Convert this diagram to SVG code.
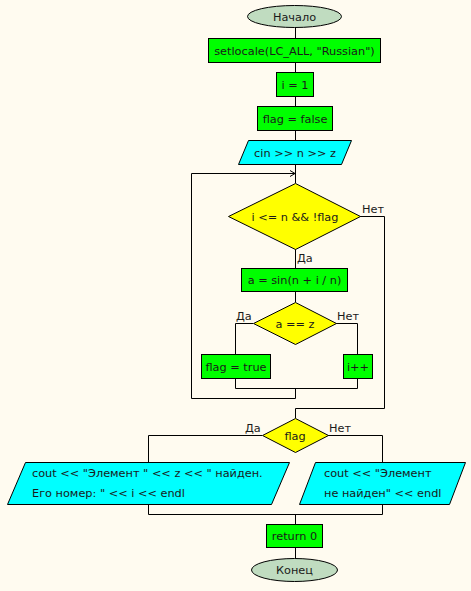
<svg xmlns="http://www.w3.org/2000/svg" width="471" height="591" viewBox="0 0 471 591">
<style>
.ln{fill:none;stroke:#000;stroke-width:1}
.term{fill:#C0DCC0;stroke:#000;stroke-width:1}
.proc{fill:#00FF00;stroke:#000;stroke-width:1}
.io{fill:#00FFFF;stroke:#000;stroke-width:1}
.dec{fill:#FFFF00;stroke:#000;stroke-width:1}
text{font-family:"DejaVu Sans",Verdana,sans-serif;font-size:11.3px;fill:#1a1a1a}
.c{text-anchor:middle}
</style>
<defs>
<marker id="arr" markerWidth="8" markerHeight="8" refX="6" refY="4" orient="auto" markerUnits="userSpaceOnUse">
<path d="M1,1 L6,4 L1,7" fill="none" stroke="#000" stroke-width="1"/>
</marker>
</defs>
<rect x="0" y="0" width="471" height="591" fill="#FFFBF0"/>
<g id="connectors">
<path class="ln" d="M295.5,27 V38 M295.5,62 V72 M295.5,96 V106 M295.5,130 V140 M295.5,164 V183"/>
<path class="ln" d="M295.5,249 V268 M295.5,291 V302"/>
<path class="ln" d="M253,323.5 H235.5 V354 M336,323.5 H357.5 V354"/>
<path class="ln" d="M235.5,378 V388.5 H357.5 V378 M295.5,388.5 V398.5 H191.5 V173.5 H295"  marker-end="url(#arr)"/>
<path class="ln" d="M360,216.5 H384.5 V408.5 H295.5 V418"/>
<path class="ln" d="M262,435.5 H148.5 V462 M328,435.5 H382.5 V462"/>
<path class="ln" d="M148.5,504 V514.5 H382.5 V504 M295.5,514.5 V524 M295.5,547 V558"/>
<text x="362" y="213">Нет</text>
<text x="297" y="262">Да</text>
<text x="236" y="320">Да</text>
<text x="337" y="320">Нет</text>
<text x="245" y="432">Да</text>
<text x="329" y="432">Нет</text>
</g>
<g id="start"><ellipse class="term" cx="294.5" cy="16.5" rx="47" ry="11"/><text class="c" x="294.5" y="20.5">Начало</text></g>
<g id="setlocale"><rect class="proc" x="208.5" y="38.5" width="172" height="24"/><text class="c" x="294.5" y="54.5">setlocale(LC_ALL, "Russian")</text></g>
<g id="i1"><rect class="proc" x="276.5" y="72.5" width="37" height="24"/><text class="c" x="295" y="88.5">i = 1</text></g>
<g id="flagfalse"><rect class="proc" x="257.5" y="106.5" width="75" height="24"/><text class="c" x="295" y="122.5">flag = false</text></g>
<g id="cin"><polygon class="io" points="248.5,140.5 351.5,140.5 341.5,164.5 238.5,164.5"/><text class="c" x="295" y="156.5">cin &gt;&gt; n &gt;&gt; z</text></g>
<g id="loopcond"><polygon class="dec" points="295.5,183.5 360.5,216.5 295.5,249.5 228.5,216.5"/><text class="c" x="295" y="220.5">i &lt;= n &amp;&amp; !flag</text></g>
<g id="asin"><rect class="proc" x="241.5" y="268.5" width="106" height="23"/><text class="c" x="294.5" y="284">a = sin(n + i / n)</text></g>
<g id="aeqz"><polygon class="dec" points="295.5,302.5 336.5,323.5 295.5,344.5 253.5,323.5"/><text class="c" x="295" y="327.5">a == z</text></g>
<g id="flagtrue"><rect class="proc" x="201.5" y="354.5" width="69" height="24"/><text class="c" x="236" y="370.5">flag = true</text></g>
<g id="iinc"><rect class="proc" x="343.5" y="354.5" width="29" height="24"/><text class="c" x="358" y="370.5">i++</text></g>
<g id="flagdec"><polygon class="dec" points="295.5,418.5 328.5,435.5 295.5,452.5 262.5,435.5"/><text class="c" x="295" y="439.5">flag</text></g>
<g id="found"><polygon class="io" points="25.5,462.5 289.5,462.5 271.5,504.5 7.5,504.5"/><text x="32" y="477">cout &lt;&lt; "Элемент " &lt;&lt; z &lt;&lt; " найден.</text><text x="32" y="497">Его номер: " &lt;&lt; i &lt;&lt; endl</text></g>
<g id="notfound"><polygon class="io" points="315.5,462.5 465.5,462.5 449.5,504.5 299.5,504.5"/><text x="324" y="477">cout &lt;&lt; "Элемент</text><text x="324" y="497">не найден" &lt;&lt; endl</text></g>
<g id="ret"><rect class="proc" x="266.5" y="524.5" width="56" height="23"/><text class="c" x="294.5" y="540">return 0</text></g>
<g id="end"><ellipse class="term" cx="294.5" cy="570" rx="43" ry="11.5"/><text class="c" x="294.5" y="574">Конец</text></g>
</svg>
